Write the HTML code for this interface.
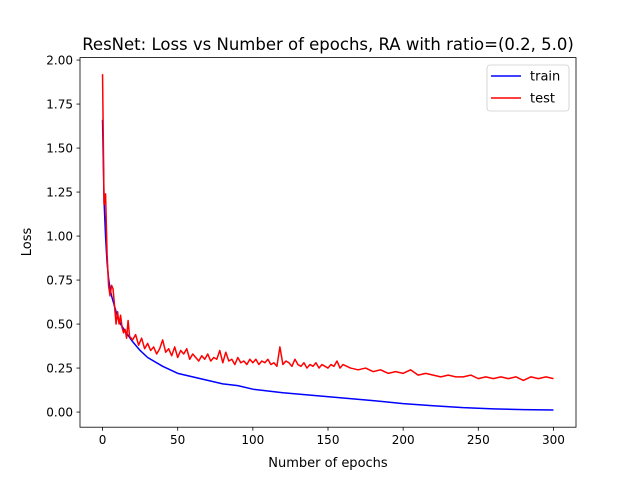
<!DOCTYPE html>
<html><head><meta charset="utf-8"><style>
body{margin:0;background:#fff;}
svg{display:block;font-family:"DejaVu Sans","Liberation Sans",sans-serif;}
</style></head><body>
<svg id="chart" width="640" height="480" viewBox="0 0 640 480" xmlns="http://www.w3.org/2000/svg">
<rect width="640" height="480" fill="#fff"/>
<text x="328" y="50" text-anchor="middle" font-size="16.5">ResNet: Loss vs Number of epochs, RA with ratio=(0.2, 5.0)</text>
<g id="plot"></g>
<text x="328" y="467" text-anchor="middle" font-size="13">Number of epochs</text>
<text x="0" y="0" transform="translate(31,242) rotate(-90)" text-anchor="middle" font-size="13">Loss</text>
</svg>
<script>
const trainEpochs=[0,1,2,3,4,5,6,8,10,12,15,20,25,30,40,50,60,70,80,90,100,120,140,160,180,200,220,240,260,280,300];
const trainLoss=[1.66,1.2,1.0,0.85,0.76,0.7,0.66,0.6,0.54,0.5,0.46,0.4,0.35,0.31,0.26,0.22,0.2,0.18,0.16,0.15,0.13,0.11,0.095,0.08,0.065,0.048,0.036,0.025,0.018,0.014,0.012];
const testEpochs=[0,1,2,3,4,5,6,7,8,9,10,11,12,13,14,15,16,17,18,20,22,24,26,28,30,32,34,36,38,40,42,44,46,48,50,52,54,56,58,60,62,64,66,68,70,72,74,76,78,80,82,84,86,88,90,92,94,96,98,100,102,104,106,108,110,112,114,116,118,120,122,124,126,128,130,132,134,136,138,140,142,144,146,148,150,152,154,156,158,160,165,170,175,180,185,190,195,200,205,210,215,220,225,230,235,240,245,250,255,260,265,270,275,280,285,290,295,300];
const testLoss=[1.92,1.18,1.24,0.9,0.72,0.66,0.72,0.7,0.6,0.5,0.57,0.5,0.55,0.48,0.45,0.47,0.42,0.52,0.43,0.41,0.44,0.38,0.42,0.36,0.39,0.35,0.37,0.33,0.36,0.41,0.34,0.36,0.32,0.37,0.31,0.35,0.33,0.36,0.3,0.33,0.31,0.29,0.32,0.3,0.33,0.29,0.31,0.3,0.35,0.28,0.34,0.29,0.3,0.27,0.31,0.28,0.29,0.27,0.3,0.28,0.3,0.27,0.29,0.28,0.3,0.27,0.28,0.26,0.37,0.27,0.29,0.28,0.26,0.3,0.27,0.26,0.28,0.25,0.27,0.26,0.28,0.25,0.27,0.26,0.25,0.27,0.26,0.29,0.25,0.27,0.25,0.24,0.25,0.23,0.24,0.22,0.23,0.22,0.24,0.21,0.22,0.21,0.2,0.21,0.2,0.2,0.21,0.19,0.2,0.19,0.2,0.19,0.2,0.18,0.2,0.19,0.2,0.19];
const xTicks=[0,50,100,150,200,250,300];
const yTicks=[0,0.25,0.5,0.75,1.0,1.25,1.5,1.75,2.0];
const L=80,R=576,T=57.6,B=427.2;
const xMin=-15,xMax=315,yMin=-0.086,yMax=2.014;
const sx=v=>L+(v-xMin)/(xMax-xMin)*(R-L);
const sy=v=>B-(v-yMin)/(yMax-yMin)*(B-T);
const NS="http://www.w3.org/2000/svg";
const g=document.getElementById('plot');
function mk(t,a){const e=document.createElementNS(NS,t);for(const k in a)e.setAttribute(k,a[k]);g.appendChild(e);return e;}
xTicks.forEach(v=>{
 const l=mk('line',{x1:sx(v),x2:sx(v),y1:B,y2:B+3.5,stroke:'#000','stroke-width':0.8});
 
 
 const t=mk('text',{x:sx(v),y:B+17,'text-anchor':'middle','font-size':12});
 t.textContent=v;
 
 
});
yTicks.forEach(v=>{
 const l=mk('line',{x1:L-3.5,x2:L,y1:sy(v),y2:sy(v),stroke:'#000','stroke-width':0.8});
 
 
 const t=mk('text',{x:L-7,y:sy(v)+4.3,'text-anchor':'end','font-size':12});
 t.textContent=v.toFixed(2);
 
 
});
function line(xs,ys,c,name){
 const p=mk('polyline',{points:xs.map((x,i)=>sx(x)+','+sy(ys[i])).join(' '),fill:'none',stroke:c,'stroke-width':1.5,'stroke-linejoin':'round'});
 
 
}
line(trainEpochs,trainLoss,'#0000ff','train-line');
line(testEpochs,testLoss,'#ff0000','test-line');
const fr=mk('rect',{x:L,y:T,width:R-L,height:B-T,fill:'none',stroke:'#000','stroke-width':0.8});


const lg=mk('rect',{x:487,y:65,width:82,height:46,rx:3,fill:'#fff','fill-opacity':0.8,stroke:'#ccc','stroke-width':0.8});


[['train','#0000ff',76],['test','#ff0000',98]].forEach(([n,c,y])=>{
 const l=mk('line',{x1:491,x2:521,y1:y,y2:y,stroke:c,'stroke-width':1.5});
 
 
 const t=mk('text',{x:530,y:y+4.5,'font-size':13});
 t.textContent=n;
 
 
});
</script>
</body></html>
